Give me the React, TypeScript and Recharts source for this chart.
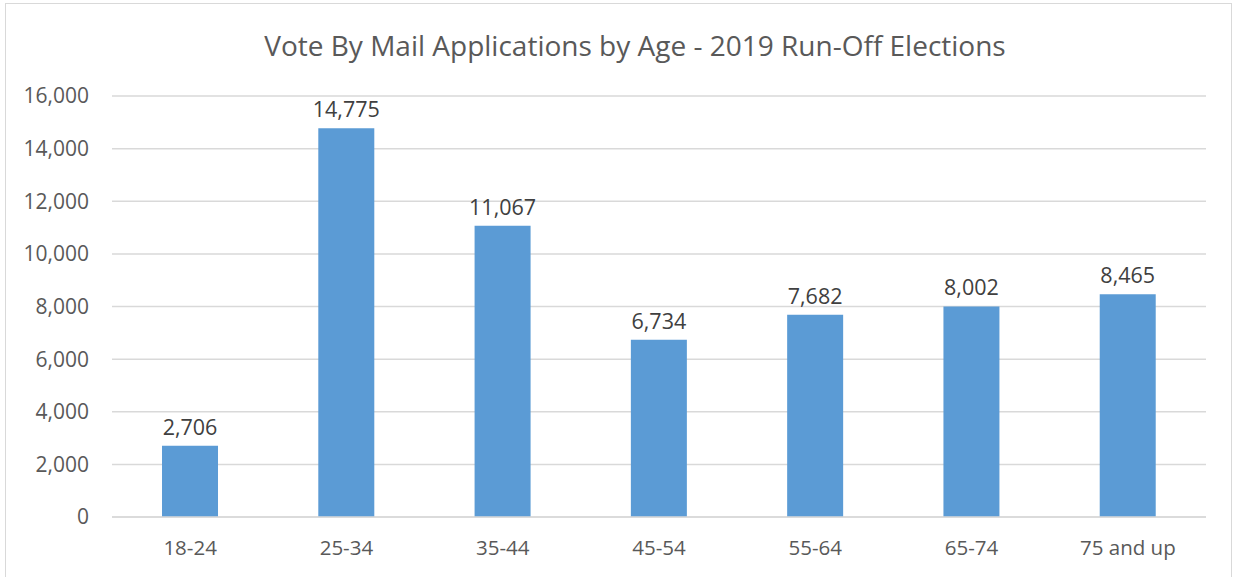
import { BarChart, Bar, XAxis, YAxis, CartesianGrid, LabelList } from 'recharts';

const AGE_GROUPS = ['18-24', '25-34', '35-44', '45-54', '55-64', '65-74', '75 and up'];
const APPLICATIONS = [2706, 14775, 11067, 6734, 7682, 8002, 8465];
const Y_TICKS = [0, 2000, 4000, 6000, 8000, 10000, 12000, 14000, 16000];

const FONT = '"Open Sans", sans-serif';
const TEXT_COLOR = '#595959';

const data = AGE_GROUPS.map((age, i) => ({ age, value: APPLICATIONS[i] }));

const fmt = (v: number) => v.toLocaleString('en-US');

export default function App() {
  return (
    <div style={{ position: 'absolute', left: 0, top: 0, width: 1235, height: 577, background: '#fff', fontFamily: FONT }}>
      <div
        style={{
          position: 'absolute',
          left: 5,
          top: 3,
          width: 1227,
          height: 580,
          border: '1px solid #d9d9d9',
          boxSizing: 'border-box',
        }}
      />
      <div
        style={{
          position: 'absolute',
          left: 0,
          top: 25,
          width: 1270,
          textAlign: 'center',
          fontSize: 28,
          color: TEXT_COLOR,
          lineHeight: '40px',
        }}
      >
        Vote By Mail Applications by Age - 2019 Run-Off Elections
      </div>
      <BarChart
        width={1235}
        height={577}
        data={data}
        margin={{ top: 96, right: 29, bottom: 0, left: 0 }}
        barCategoryGap="32%"
        style={{ position: 'absolute', left: 0, top: 0 }}
      >
        <CartesianGrid vertical={false} stroke="#d9d9d9" strokeWidth={1.5} />
        <XAxis
          dataKey="age"
          height={60}
          axisLine={{ stroke: '#d9d9d9', strokeWidth: 1.5 }}
          tickLine={false}
          tickMargin={17}
          tick={{ fill: TEXT_COLOR, fontSize: 20.5, fontFamily: FONT }}
        />
        <YAxis
          width={112}
          domain={[0, 16000]}
          ticks={Y_TICKS}
          axisLine={false}
          tickLine={false}
          tickMargin={17}
          tickFormatter={fmt}
          tick={{ fill: TEXT_COLOR, fontSize: 21, fontFamily: FONT }}
        />
        <Bar dataKey="value" fill="#5b9bd5" isAnimationActive={false}>
          <LabelList
            dataKey="value"
            position="top"
            offset={11}
            formatter={(v: any) => fmt(Number(v))}
            style={{ fill: '#404040', fontSize: 21.5, fontFamily: FONT }}
          />
        </Bar>
      </BarChart>
    </div>
  );
}
